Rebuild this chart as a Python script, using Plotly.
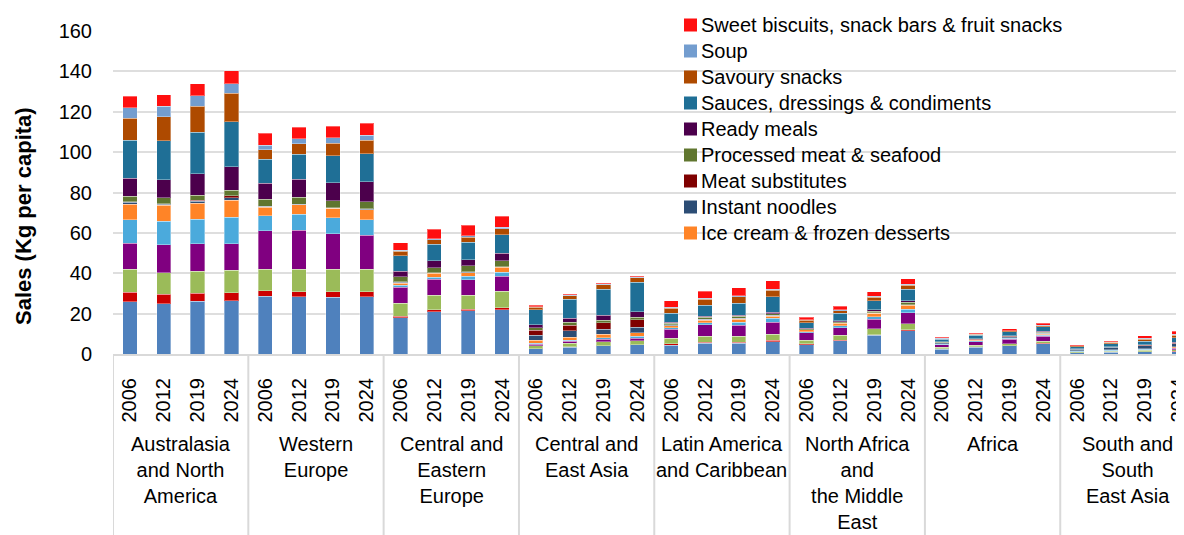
import plotly.graph_objects as go

# ---------------- data ----------------
regions = [
    "Australasia<br>and North<br>America",
    "Western<br>Europe",
    "Central and<br>Eastern<br>Europe",
    "Central and<br>East Asia",
    "Latin America<br>and Caribbean",
    "North Africa<br>and<br>the Middle<br>East",
    "Africa",
    "South and<br>South<br>East Asia",
]
years = ["2006", "2012", "2019", "2024"]

# stacked from bottom to top (kg per capita; region by region, years 2006/2012/2019/2024)
baked_goods = [25.8, 24.9, 26.1, 26.4, 28.7, 28.4, 28.2, 28.4, 18.0, 21.0, 21.4, 21.9, 2.5, 3.3, 4.0, 4.5,
               4.3, 5.3, 5.4, 6.1, 4.6, 6.6, 9.3, 11.5, 2.4, 3.3, 4.0, 5.0, 0.6, 0.9, 1.0, 1.2]
breakfast_cereals = [4.9, 4.8, 4.1, 4.0, 2.7, 2.5, 2.7, 2.5, 0.7, 0.8, 0.7, 1.0, 0.2, 0.2, 0.2, 0.2,
                     0.7, 0.6, 0.5, 0.7, 0.4, 0.3, 0.3, 0.4, 0.2, 0.2, 0.2, 0.3, 0.1, 0.1, 0.2, 0.2]
confectionery = [11.3, 10.6, 10.8, 11.1, 10.5, 11.0, 11.0, 11.0, 6.4, 7.4, 7.1, 8.1, 1.4, 1.8, 1.9, 1.9,
                 2.8, 3.0, 2.8, 3.0, 1.9, 2.5, 2.9, 3.0, 0.8, 0.8, 0.9, 1.1, 0.3, 0.4, 0.6, 0.8]
dairy = [12.8, 13.8, 13.5, 13.1, 19.2, 19.5, 17.7, 16.9, 7.9, 7.8, 7.5, 7.6, 0.7, 1.0, 1.2, 1.3,
         4.4, 5.5, 5.5, 5.9, 3.6, 3.6, 4.8, 5.6, 1.2, 1.8, 2.2, 2.4, 0.2, 0.3, 0.4, 0.6]
edible_oils = [11.6, 11.6, 12.2, 13.1, 7.4, 7.9, 8.0, 7.7, 1.0, 1.0, 1.8, 2.0, 0.5, 0.6, 0.8, 0.8,
               0.8, 1.1, 1.6, 2.1, 0.5, 1.0, 1.2, 1.6, 0.3, 0.4, 0.5, 0.6, 0.1, 0.1, 0.2, 0.3]
ice_cream = [7.9, 7.9, 7.9, 8.4, 4.3, 4.6, 4.5, 5.0, 1.0, 2.0, 1.8, 2.3, 1.6, 1.5, 1.7, 1.8,
             0.9, 1.3, 1.5, 1.0, 0.9, 1.2, 1.6, 2.0, 0.2, 0.2, 0.3, 0.3, 0.2, 0.3, 0.3, 0.4]
instant_noodles = [0.8, 0.5, 1.0, 1.3, 0.3, 0.2, 0.2, 0.2, 0.5, 0.2, 0.3, 0.2, 2.5, 3.1, 2.4, 2.7,
                   0.3, 0.3, 0.3, 0.3, 0.1, 0.2, 0.2, 0.2, 0.4, 0.4, 0.5, 0.6, 0.8, 1.2, 1.4, 1.5]
meat_substitutes = [0.3, 0.3, 0.5, 1.1, 0.2, 0.2, 0.2, 0.3, 0.3, 0.1, 0.2, 0.1, 2.3, 2.7, 3.3, 3.8,
                    0.2, 0.2, 0.2, 0.2, 0.1, 0.1, 0.1, 0.1, 0.1, 0.1, 0.1, 0.1, 0.2, 0.2, 0.3, 0.3]
processed_meat = [2.7, 3.0, 2.5, 2.7, 3.3, 3.4, 3.4, 3.3, 2.5, 2.4, 2.8, 2.9, 1.2, 1.5, 1.3, 1.3,
                  0.8, 0.9, 0.9, 0.7, 0.4, 0.6, 0.9, 1.2, 0.3, 0.3, 0.3, 0.4, 0.1, 0.1, 0.2, 0.2]
ready_meals = [9.0, 9.0, 10.7, 11.6, 8.1, 8.8, 9.0, 10.0, 2.7, 3.4, 3.0, 3.8, 1.5, 2.0, 2.4, 2.6,
               0.5, 0.6, 0.6, 0.8, 0.2, 0.4, 0.5, 0.8, 0.1, 0.1, 0.1, 0.4, 0.1, 0.1, 0.1, 0.2]
sauces = [18.7, 19.3, 20.5, 22.2, 11.7, 12.4, 13.3, 13.9, 7.7, 8.2, 8.7, 9.2, 7.5, 9.4, 12.8, 14.6,
          4.5, 5.3, 5.8, 7.6, 2.8, 3.8, 4.6, 5.7, 1.4, 1.8, 1.9, 2.3, 1.0, 1.4, 1.7, 2.4]
savoury_snacks = [11.0, 11.9, 13.0, 14.2, 4.8, 5.3, 6.2, 6.6, 2.3, 2.3, 2.6, 3.0, 1.2, 1.8, 2.2, 2.3,
                  2.5, 3.0, 3.3, 3.3, 1.2, 1.2, 1.7, 2.0, 0.2, 0.3, 0.4, 0.5, 0.3, 0.6, 0.8, 1.1]
soup = [5.2, 5.1, 5.1, 4.7, 2.3, 2.5, 2.8, 2.6, 0.3, 0.4, 0.7, 0.7, 0.2, 0.2, 0.3, 0.3,
        0.4, 0.4, 0.4, 0.4, 0.3, 0.3, 0.4, 0.4, 0.2, 0.2, 0.2, 0.2, 0.1, 0.1, 0.5, 0.6]
sweet_biscuits = [5.6, 5.6, 6.0, 6.3, 5.8, 5.7, 5.6, 6.0, 3.8, 4.8, 5.3, 5.5, 0.8, 0.6, 0.5, 0.5,
                  3.4, 3.7, 3.9, 4.1, 1.2, 1.8, 2.4, 2.7, 0.4, 0.5, 0.8, 1.1, 0.5, 0.6, 1.4, 1.5]

series_names = [
    "Baked goods", "Breakfast cereals", "Confectionery", "Dairy", "Edible oils",
    "Ice cream & frozen desserts", "Instant noodles", "Meat substitutes",
    "Processed meat & seafood", "Ready meals", "Sauces, dressings & condiments",
    "Savoury snacks", "Soup", "Sweet biscuits, snack bars & fruit snacks",
]
series_values = [baked_goods, breakfast_cereals, confectionery, dairy, edible_oils, ice_cream,
                 instant_noodles, meat_substitutes, processed_meat, ready_meals, sauces,
                 savoury_snacks, soup, sweet_biscuits]
series_colors = ["#4F81BD", "#CC0000", "#9BBB59", "#800080", "#4BAADC", "#FF8427", "#2C4D75",
                 "#7F0000", "#60762F", "#4C004C", "#1F6F96", "#AE4A00", "#739DCF", "#FF0F0F"]
# legend entries visible in the picture (top of list first)
legend_names = series_names[::-1][:9]

y_ticks = [0, 20, 40, 60, 80, 100, 120, 140, 160]

# ---------------- layout helpers ----------------
OFF = 8                       # default page margin around the figure
W, H = 1184 - OFF, 535 - OFF  # figure fills the visible window
PLOT_L, PLOT_T, PLOT_B = 113, 31, 354   # plot area in window pixels
ML = PLOT_L - OFF
MT = PLOT_T - OFF
MB = H - (PLOT_B - OFF)
MR = 0
PW, PH = W - ML - MR, H - MT - MB
FONT = "Liberation Sans, Arial, sans-serif"
FS = 20


def px_x(px):
    return (px - PLOT_L) / PW


def px_y(py):
    return (PLOT_B - py) / PH


n_years = len(years)
n_bars = len(regions) * n_years
x_pos = list(range(n_bars))
x_year_text = [years[i % n_years] for i in x_pos]
slot_px = 33.83

fig = go.Figure()
for name, vals, col in zip(series_names, series_values, series_colors):
    fig.add_trace(go.Bar(
        x=x_pos, y=vals, name=name, width=0.42,
        marker=dict(color=col, line=dict(color="rgba(255,255,255,0.35)", width=1)),
        showlegend=False,
    ))

shapes = []
# white box behind the legend (hides gridlines)
shapes.append(dict(type="rect", xref="paper", yref="paper", x0=px_x(516), x1=1.01,
                   y0=px_y(250), y1=px_y(-5), fillcolor="white", line=dict(width=0),
                   layer="between"))
# group dividers below axis
for g in range(len(regions) + 1):
    xb = g * n_years - 0.5
    shapes.append(dict(type="line", xref="x", yref="paper", x0=xb, x1=xb,
                       y0=0, y1=px_y(560), line=dict(color="#D9D9D9", width=2)))

annotations = []
# region labels
for g, reg in enumerate(regions):
    annotations.append(dict(x=g * n_years + (n_years - 1) / 2, y=px_y(431), xref="x", yref="paper",
                            text=reg, showarrow=False, xanchor="center", yanchor="top",
                            font=dict(family=FONT, size=FS, color="#000000")))
# y-axis title
annotations.append(dict(x=px_x(24), y=px_y(216), xref="paper", yref="paper",
                        text="<b>Sales (Kg per capita)</b>", textangle=-90, showarrow=False,
                        xanchor="center", yanchor="middle",
                        font=dict(family=FONT, size=22, color="#000000")))
# manual legend
for i, lname in enumerate(legend_names):
    cy = 25 + i * 26
    col = series_colors[series_names.index(lname)]
    shapes.append(dict(type="rect", xref="paper", yref="paper",
                       x0=px_x(684), x1=px_x(697), y0=px_y(cy + 6.5), y1=px_y(cy - 6.5),
                       fillcolor=col, line=dict(width=0), layer="above"))
    annotations.append(dict(x=px_x(699), y=px_y(cy), xref="paper", yref="paper", text=lname,
                            showarrow=False, xanchor="left", yanchor="middle",
                            font=dict(family=FONT, size=FS, color="#000000")))

fig.update_layout(
    width=W, height=H,
    margin=dict(l=ML, r=MR, t=MT, b=MB, pad=0, autoexpand=False),
    barmode="stack",
    plot_bgcolor="white", paper_bgcolor="white",
    font=dict(family=FONT, size=FS, color="#000000"),
    shapes=shapes, annotations=annotations,
    showlegend=False,
    xaxis=dict(range=[-0.5, -0.5 + PW / slot_px], tickmode="array", tickvals=x_pos,
               ticktext=x_year_text, tickangle=-90, ticks="", showgrid=False, zeroline=False,
               showline=True, linecolor="#D9D9D9", linewidth=2, ticklabelstandoff=14,
               ticklabeloverflow="allow", automargin=False,
               tickfont=dict(family=FONT, size=FS, color="#000000")),
    yaxis=dict(range=[0, 160], tickmode="array", tickvals=y_ticks, ticks="",
               showgrid=True, gridcolor="#DEDEDE", gridwidth=2, zeroline=False,
               showline=False, ticklabelstandoff=20, automargin=False,
               tickfont=dict(family=FONT, size=FS, color="#000000")),
)

fig.write_html("out.html")
